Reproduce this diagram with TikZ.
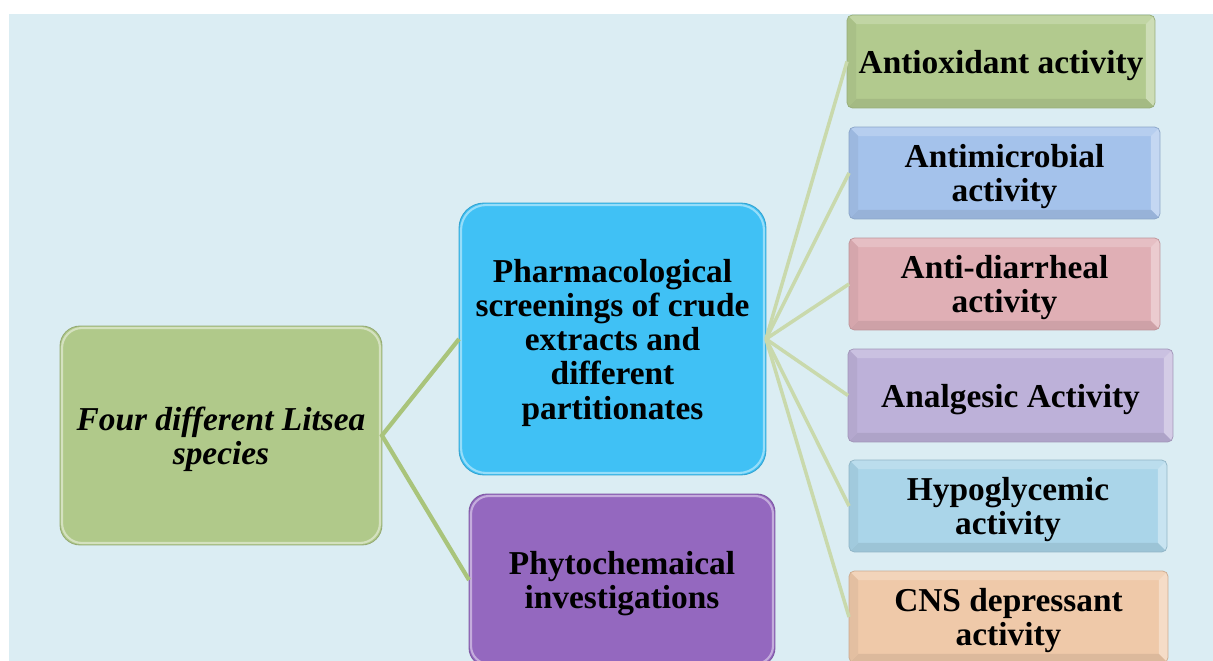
\documentclass[tikz,border=0pt]{standalone}
\usepackage{fontspec}
\setmainfont{Liberation Serif}
\usetikzlibrary{calc,backgrounds}

\definecolor{bgblue}{HTML}{DBEDF3}
\definecolor{rootgreen}{HTML}{B0C98A}
\definecolor{pharmblue}{HTML}{40C1F5}
\definecolor{phytopurple}{HTML}{9468BF}
\definecolor{linkgreen}{HTML}{A9C47B}
\definecolor{fangreen}{HTML}{C9D9AC}
\definecolor{oxgreen}{HTML}{B2CA8E}
\definecolor{microblue}{HTML}{A4C2EB}
\definecolor{diarpink}{HTML}{E0AFB5}
\definecolor{analglilac}{HTML}{BDB1D9}
\definecolor{hypocyan}{HTML}{AAD5E9}
\definecolor{cnspeach}{HTML}{EFC9A9}

\tikzset{
  box/.style={inner sep=0pt, outer sep=0pt, align=center, text depth=0pt,
    font=\fontsize{19}{19.5}\selectfont\bfseries},
  link/.style={line width=2.4pt, linkgreen},
  fan/.style={line width=2pt, fangreen},
}

% raised box with bevelled edges
\newcommand{\bevelbox}[2]{%
  \fill[#2, rounded corners=3pt] (#1.north west) rectangle (#1.south east);
  \begin{scope}
    \clip[rounded corners=3pt] (#1.north west) rectangle (#1.south east);
    \fill[#2!80!white] (#1.north west) -- (#1.north east) -- ($(#1.north east)+(-9,9)$) -- ($(#1.north west)+(9,9)$) -- cycle;
    \fill[#2!65!white] (#1.north east) -- (#1.south east) -- ($(#1.south east)+(-9,-9)$) -- ($(#1.north east)+(-9,9)$) -- cycle;
    \fill[#2!92!black] (#1.south east) -- (#1.south west) -- ($(#1.south west)+(9,-9)$) -- ($(#1.south east)+(-9,-9)$) -- cycle;
    \fill[#2!95!black] (#1.south west) -- (#1.north west) -- ($(#1.north west)+(9,9)$) -- ($(#1.south west)+(9,-9)$) -- cycle;
  \end{scope}
  \draw[#2!85!black, line width=0.4pt, rounded corners=3pt] (#1.north west) rectangle (#1.south east);}

% soft rounded box
\newcommand{\softbox}[3]{%
  \fill[#2, rounded corners=#3] (#1.north west) rectangle (#1.south east);
  \draw[#2!55!white, line width=1.2pt, rounded corners=#3] ($(#1.north west)+(2,2)$) rectangle ($(#1.south east)+(-2,-2)$);
  \draw[#2!85!black, line width=0.5pt, rounded corners=#3] (#1.north west) rectangle (#1.south east);}

\begin{document}
\begin{tikzpicture}[x=0.02cm, y=-0.02cm]
\useasboundingbox (0,0) rectangle (1213,661);
\clip (0,0) rectangle (1213,661);

% main nodes
\node[box, font=\fontsize{19}{19.5}\selectfont\bfseries\itshape, minimum width=6.44cm, minimum height=4.38cm] (root) at (221,435.5) {Four different Litsea\\species};
\node[box, minimum width=6.14cm, minimum height=5.44cm] (pharm) at (612.5,339) {Pharmacological\\screenings of crude\\extracts and\\different\\partitionates};
\node[box, minimum width=6.12cm, minimum height=3.44cm] (phyto) at (622,580) {Phytochemaical\\investigations};

% activities
\node[box, minimum width=6.16cm, minimum height=1.86cm] (ox) at (1001,61.5) {Antioxidant activity};
\node[box, minimum width=6.22cm, minimum height=1.84cm] (micro) at (1004.5,173) {Antimicrobial\\activity};
\node[box, minimum width=6.22cm, minimum height=1.84cm] (diar) at (1004.5,284) {Anti-diarrheal\\activity};
\node[box, minimum width=6.50cm, minimum height=1.86cm] (analg) at (1010.5,395.5) {Analgesic Activity};
\node[box, minimum width=6.36cm, minimum height=1.84cm] (hypo) at (1008,506) {Hypoglycemic\\activity};
\node[box, minimum width=6.38cm, minimum height=1.84cm] (cns) at (1008.5,617) {CNS depressant\\activity};

\begin{scope}[on background layer]
  \fill[white] (0,0) rectangle (1213,661);
  \fill[bgblue] (9,14) rectangle (1213,661);
  \softbox{root}{rootgreen}{0.4cm}
  \softbox{pharm}{pharmblue}{0.5cm}
  \softbox{phyto}{phytopurple}{0.36cm}
  \bevelbox{ox}{oxgreen}
  \bevelbox{micro}{microblue}
  \bevelbox{diar}{diarpink}
  \bevelbox{analg}{analglilac}
  \bevelbox{hypo}{hypocyan}
  \bevelbox{cns}{cnspeach}
\end{scope}

% connectors
\draw[link] (pharm.west) -- (root.east) -- (phyto.west);
\foreach \n in {ox,micro,diar,analg,hypo,cns}
  \draw[fan] (pharm.east) -- (\n.west);
\end{tikzpicture}
\end{document}
